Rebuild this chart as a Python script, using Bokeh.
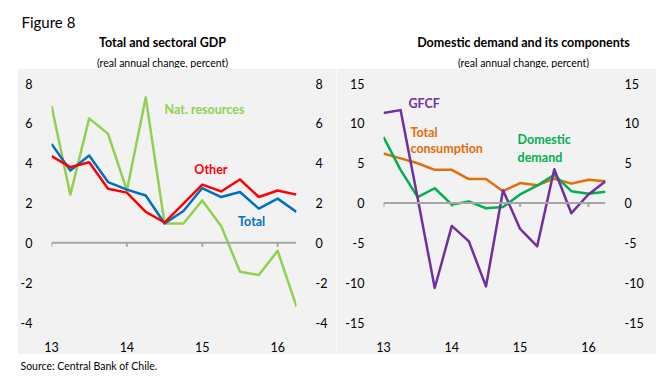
from bokeh.plotting import figure
from bokeh.models import Range1d, LinearAxis, FixedTicker, Label, Spacer, Span
from bokeh.layouts import column, row
from bokeh.embed import file_html
from bokeh.resources import INLINE

FONT = "Lato"
BG = "#f2f2f2"
AXIS_GREY = "#a6a6a6"

# ---- data -----------------------------------------------------------------
quarters = list(range(14))            # 2013Q1 .. 2016Q2
year_ticks = [0, 4, 8, 12]
year_labels = ["13", "14", "15", "16"]

nat_resources = [6.88, 2.42, 6.25, 5.47, 2.63, 7.3, 0.97, 0.97, 2.13, 0.85, -1.45, -1.62, -0.4, -3.2]
total_gdp = [4.97, 3.63, 4.38, 3.05, 2.67, 2.38, 0.97, 1.6, 2.75, 2.3, 2.55, 1.72, 2.22, 1.55]
other_gdp = [4.35, 3.8, 4.05, 2.72, 2.52, 1.55, 1.02, 1.97, 2.92, 2.58, 3.18, 2.3, 2.63, 2.42]

gfcf = [11.29, 11.66, 0.6, -10.67, -2.88, -4.82, -10.47, 1.6, -3.25, -5.44, 4.24, -1.28, 1.07, 2.72]
total_consumption = [6.22, 5.6, 4.99, 4.16, 4.16, 3.0, 3.0, 1.48, 2.51, 2.22, 3.05, 2.43, 2.93, 2.72]
domestic_demand = [8.28, 4.16, 0.74, 1.85, -0.2, 0.2, -0.66, -0.5, 1.07, 2.18, 3.54, 1.48, 1.15, 1.4]

left_ticks = [-4, -2, 0, 2, 4, 6, 8]
right_ticks = [-15, -10, -5, 0, 5, 10, 15]


def make_panel(width, height, ylo, yhi, yticks, bl, br, bt, bb):
    p = figure(width=width, height=height, x_range=Range1d(0, 13), y_range=Range1d(ylo, yhi),
               output_backend="svg", toolbar_location=None,
               x_axis_location=None, y_axis_location=None,
               min_border_left=bl, min_border_right=br, min_border_top=bt, min_border_bottom=bb)
    p.background_fill_color = BG
    p.border_fill_color = BG
    p.outline_line_color = None
    p.grid.grid_line_color = None

    # year labels at the bottom
    xlab = LinearAxis(ticker=FixedTicker(ticks=year_ticks),
                      major_label_overrides={t: l for t, l in zip(year_ticks, year_labels)},
                      axis_line_color=None, major_tick_line_color=None, minor_tick_line_color=None,
                      major_label_standoff=13, major_label_text_font=FONT,
                      major_label_text_font_size="12.5px", major_label_text_color="#000000")
    p.add_layout(xlab, "below")

    # zero line with short downward year ticks
    p.add_layout(Span(location=0, dimension="width", line_color=AXIS_GREY, line_width=2))
    frame_h = height - bt - bb
    tick_len = 4.0 * (yhi - ylo) / frame_h
    p.segment(x0=year_ticks, y0=[0] * len(year_ticks), x1=year_ticks,
              y1=[-tick_len] * len(year_ticks), line_color=AXIS_GREY, line_width=2)

    for side in ("left", "right"):
        ax = LinearAxis(ticker=FixedTicker(ticks=yticks),
                        major_label_overrides={t: str(t) for t in yticks},
                        axis_line_color=None, major_tick_line_color=None, minor_tick_line_color=None,
                        major_label_standoff=13, major_label_text_font=FONT,
                        major_label_text_font_size="12.5px", major_label_text_color="#000000")
        p.add_layout(ax, side)
    return p


def lab(p, x, y, text, color, size="12.5px", bold=True, align="left", baseline="middle"):
    p.add_layout(Label(x=x, y=y, text=text, text_color=color, text_font=FONT,
                       text_font_size=size, text_font_style="bold" if bold else "normal",
                       text_align=align, text_baseline=baseline))


# ---- left panel -----------------------------------------------------------
left = make_panel(319, 286, -4, 8, left_ticks, 32, 40, 15, 31)
left.line(quarters, nat_resources, line_width=2.5, color="#92d050", line_join="round")
left.line(quarters, total_gdp, line_width=2.5, color="#0070c0", line_join="round")
left.line(quarters, other_gdp, line_width=2.5, color="#ff0000", line_join="round")
lab(left, 6.0, 6.7, "Nat. resources", "#92d050")
lab(left, 7.58, 3.7, "Other", "#ff0000")
lab(left, 9.9, 1.05, "Total", "#0070c0")

# ---- right panel ----------------------------------------------------------
right = make_panel(320, 286, -15, 15, right_ticks, 47, 51, 13, 31)
right.line(quarters, total_consumption, line_width=2.5, color="#e46c0a", line_join="round")
right.line(quarters, domestic_demand, line_width=2.5, color="#00b050", line_join="round")
right.line(quarters, gfcf, line_width=2.5, color="#7030a0", line_join="round")
lab(right, 1.46, 12.5, "GFCF", "#7030a0")
lab(right, 1.58, 8.8, "Total", "#e46c0a")
lab(right, 1.58, 6.8, "consumption", "#e46c0a")
lab(right, 7.85, 7.93, "Domestic", "#00b050")
lab(right, 7.85, 5.7, "demand", "#00b050")


# ---- header and footer ----------------------------------------------------
def text_strip(width, height):
    p = figure(width=width, height=height, x_range=Range1d(0, width), y_range=Range1d(height, 0),
               output_backend="svg", toolbar_location=None,
               x_axis_location=None, y_axis_location=None, min_border=0)
    p.outline_line_color = None
    p.grid.grid_line_color = None
    p.background_fill_color = "white"
    p.border_fill_color = "white"
    return p


header = text_strip(656, 68)
lab(header, 21, 21, "Figure 8", "#000000", size="15px", bold=False, baseline="alphabetic")
lab(header, 162, 42, "Total and sectoral GDP", "#000000", size="12.5px", align="center", baseline="alphabetic")
lab(header, 162, 62, "(real annual change, percent)", "#000000", size="10.5px", bold=False,
    align="center", baseline="alphabetic")
lab(header, 523, 42, "Domestic demand and its components", "#000000", size="12.5px", align="center",
    baseline="alphabetic")
lab(header, 523, 62, "(real annual change, percent)", "#000000", size="10.5px", bold=False,
    align="center", baseline="alphabetic")

footer = text_strip(656, 29)
lab(footer, 20, 11, "Source: Central Bank of Chile.", "#000000", size="10.5px", bold=False)

layout = column(header, row(Spacer(width=17, height=286), left, right), footer)

open("out.html", "w").write(file_html(layout, INLINE))
